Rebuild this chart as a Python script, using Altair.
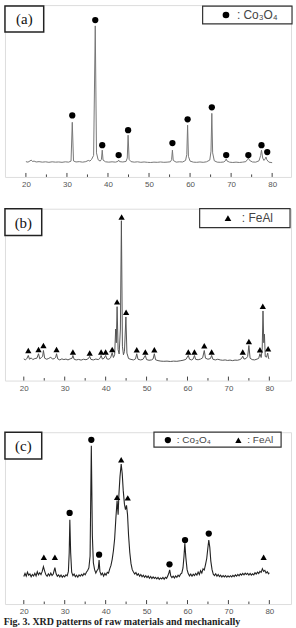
import altair as alt
import pandas as pd

# ---------------- data ----------------
TICKS_MAJOR = [20, 30, 40, 50, 60, 70, 80]
TICKS_MINOR = [25, 35, 45, 55, 65, 75]

# (a) raw Co3O4 : (2theta, intensity)
A_TRACE = [
    (20.0, 8.9), (20.5, 8.6), (21.0, 9.3), (21.3, 9.8), (21.6, 9.0), (22.0, 9.2), (22.5, 8.7),
    (23.2, 8.9), (24.0, 8.6), (24.8, 8.8), (25.6, 8.5), (26.4, 8.8), (27.2, 8.6), (28.0, 8.7),
    (28.8, 8.5), (29.6, 8.8), (30.4, 8.6), (31.0, 9.2), (31.3, 31.8), (31.6, 9.3), (32.2, 8.7),
    (33.0, 8.9), (33.8, 8.6), (34.6, 8.9), (35.2, 9.6), (35.6, 9.2), (36.0, 10.2), (36.5, 12.5),
    (36.9, 87.9), (37.2, 14.0), (37.6, 10.0), (38.1, 9.2), (38.4, 10.2), (38.6, 15.6), (38.8, 9.8),
    (39.4, 8.8), (40.2, 8.6), (41.0, 8.8), (41.8, 8.6), (42.4, 9.0), (42.6, 9.8), (42.8, 8.9),
    (43.6, 8.7), (44.4, 9.0), (44.7, 11.0), (44.9, 24.3), (45.15, 10.2), (45.6, 8.9), (46.4, 8.6),
    (47.2, 8.8), (48.0, 8.5), (48.8, 8.7), (49.6, 8.5), (50.4, 8.4), (51.2, 8.6), (52.0, 8.5),
    (52.8, 8.7), (53.6, 8.5), (54.4, 8.6), (55.2, 8.8), (55.5, 10.0), (55.7, 15.6), (55.9, 9.6),
    (56.6, 8.6), (57.4, 8.8), (58.2, 8.7), (58.9, 9.6), (59.2, 13.0), (59.4, 30.1), (59.6, 12.0),
    (60.0, 9.2), (60.8, 8.6), (61.6, 8.5), (62.4, 8.7), (63.2, 8.5), (64.0, 8.8), (64.8, 9.8),
    (65.1, 15.0), (65.3, 37.0), (65.5, 14.0), (65.9, 9.4), (66.6, 8.6), (67.4, 8.5), (68.2, 8.7),
    (68.6, 9.4), (68.8, 10.4), (69.0, 9.3), (69.6, 8.6), (70.4, 8.4), (71.2, 8.6), (72.0, 8.4),
    (72.8, 8.6), (73.6, 8.9), (74.0, 10.2), (74.2, 11.0), (74.5, 9.6), (75.2, 8.7), (76.0, 8.6),
    (76.8, 9.4), (77.2, 12.5), (77.4, 15.6), (77.7, 11.0), (78.0, 9.6), (78.3, 10.5), (78.5, 11.6),
    (78.7, 10.0), (79.2, 8.6), (80.0, 8.3),
]
A_MARK_TT = [31.3, 36.9, 38.6, 42.6, 44.9, 55.7, 59.4, 65.3, 68.8, 74.2, 77.4, 78.8]
A_MARK_I = [35.8, 91.3, 18.5, 12.7, 27.2, 19.7, 33.5, 40.5, 12.7, 12.7, 18.5, 14.5]

# (b) raw FeAl
B_TRACE = [
    (20.0, 12.6), (20.4, 12.0), (20.8, 13.0), (21.1, 14.6), (21.4, 12.4), (21.8, 13.2), (22.2, 12.2),
    (22.7, 12.8), (23.2, 13.0), (23.6, 15.6), (23.9, 12.6), (24.3, 13.4), (24.6, 14.0), (24.8, 17.5),
    (25.1, 13.0), (25.6, 12.4), (26.1, 12.9), (26.6, 13.6), (27.0, 12.5), (27.5, 12.8), (27.8, 13.6),
    (28.0, 15.6), (28.3, 12.6), (28.8, 12.0), (29.3, 12.6), (29.8, 12.2), (30.3, 12.5), (30.8, 12.0),
    (31.3, 12.6), (31.8, 13.0), (32.0, 14.6), (32.3, 12.4), (32.8, 12.0), (33.4, 12.3), (34.0, 11.9),
    (34.6, 12.4), (35.2, 12.1), (35.8, 12.8), (36.1, 14.1), (36.4, 12.3), (37.0, 12.0), (37.6, 12.5),
    (38.2, 12.2), (38.6, 12.9), (38.9, 14.6), (39.2, 12.5), (39.6, 12.9), (40.0, 14.6), (40.3, 12.6),
    (40.8, 12.4), (41.2, 13.2), (41.6, 16.2), (41.9, 13.4), (42.2, 15.0), (42.45, 30.0), (42.6, 22.0),
    (42.8, 43.0), (43.05, 18.0), (43.3, 15.5), (43.6, 30.0), (43.85, 93.0), (44.1, 20.0), (44.35, 15.0),
    (44.6, 17.0), (44.95, 37.0), (45.2, 16.0), (45.6, 12.8), (46.2, 12.3), (46.8, 12.0), (47.3, 12.6),
    (47.6, 15.6), (47.9, 12.4), (48.5, 12.0), (49.1, 12.3), (49.7, 14.6), (50.0, 12.2), (50.6, 11.8),
    (51.2, 12.0), (51.6, 12.6), (51.9, 15.6), (52.2, 12.1), (52.8, 11.6), (53.5, 11.3), (54.2, 11.2),
    (55.0, 11.3), (55.8, 11.1), (56.6, 11.3), (57.4, 11.2), (58.2, 11.5), (58.9, 11.8), (59.6, 12.3),
    (60.2, 14.6), (60.5, 12.4), (61.0, 12.0), (61.4, 12.6), (61.7, 14.6), (62.0, 12.3), (62.6, 12.1),
    (63.2, 12.5), (63.7, 13.2), (64.1, 17.5), (64.4, 13.0), (65.0, 12.4), (65.6, 12.8), (65.9, 14.6),
    (66.2, 12.4), (66.8, 12.0), (67.4, 12.4), (68.0, 12.0), (68.6, 11.8), (69.2, 12.0), (69.8, 11.7),
    (70.4, 11.9), (71.0, 11.6), (71.6, 11.9), (72.2, 11.8), (72.8, 12.2), (73.2, 12.8), (73.5, 14.2),
    (73.8, 12.5), (74.3, 12.8), (74.7, 14.0), (75.0, 20.4), (75.3, 13.0), (75.8, 12.2), (76.4, 12.0),
    (77.0, 12.5), (77.4, 12.9), (77.7, 15.6), (78.0, 13.4), (78.25, 18.0), (78.45, 40.5), (78.65, 22.0),
    (78.8, 27.0), (79.0, 14.0), (79.3, 13.6), (79.6, 16.0), (79.8, 13.0), (80.0, 12.5),
]
B_MARK_TT = [21.1, 23.6, 24.8, 28.0, 32.0, 36.1, 38.9, 40.0, 41.6, 42.8, 43.9, 45.0,
             47.6, 49.7, 51.9, 60.2, 61.7, 64.1, 65.9, 73.5, 75.0, 77.7, 78.4, 79.7]
B_MARK_I = [17.5, 18.1, 20.4, 18.1, 16.6, 16.0, 16.6, 16.6, 18.1, 45.8, 95.2, 39.7,
            17.9, 16.6, 17.9, 16.6, 16.6, 20.2, 16.6, 16.6, 22.7, 17.9, 43.2, 18.5]

# (c) mechanically alloyed Co3O4 + FeAl
C_TRACE = [
    (20.0, 16.0), (20.3, 17.8), (20.6, 16.2), (20.9, 18.6), (21.2, 16.8), (21.5, 17.5), (21.8, 15.9),
    (22.1, 17.2), (22.4, 16.3), (22.7, 17.9), (23.0, 16.4), (23.3, 18.8), (23.6, 17.0), (23.9, 18.2),
    (24.2, 17.1), (24.5, 19.0), (24.8, 21.8), (25.1, 19.2), (25.4, 17.0), (25.7, 16.2), (26.0, 17.6),
    (26.3, 16.4), (26.6, 18.0), (26.9, 16.6), (27.2, 17.5), (27.6, 21.2), (27.9, 17.6), (28.2, 16.2),
    (28.5, 17.0), (28.8, 15.8), (29.1, 16.9), (29.4, 15.6), (29.7, 16.6), (30.0, 15.8), (30.3, 17.0),
    (30.6, 16.4), (30.9, 19.0), (31.1, 30.0), (31.25, 49.1), (31.45, 30.0), (31.7, 18.5), (32.0, 16.5),
    (32.3, 17.4), (32.6, 15.9), (32.9, 16.8), (33.2, 15.6), (33.5, 17.0), (33.8, 16.2), (34.1, 17.3),
    (34.4, 16.5), (34.7, 17.8), (35.0, 17.0), (35.3, 18.5), (35.6, 19.5), (35.9, 21.0), (36.2, 28.0),
    (36.5, 92.1), (36.75, 40.0), (37.0, 24.0), (37.3, 20.0), (37.6, 18.0), (37.9, 19.5), (38.2, 20.5),
    (38.4, 25.6), (38.6, 19.0), (38.9, 17.0), (39.2, 18.0), (39.5, 16.2), (39.8, 17.8), (40.1, 16.8),
    (40.4, 18.5), (40.7, 18.0), (41.0, 20.5), (41.3, 22.5), (41.6, 26.0), (41.9, 31.0), (42.2, 38.0),
    (42.5, 50.0), (42.8, 60.3), (43.05, 52.0), (43.25, 64.0), (43.5, 74.0), (43.8, 81.5), (44.05, 76.0),
    (44.3, 66.0), (44.6, 58.0), (44.85, 55.0), (45.1, 57.4), (45.35, 52.0), (45.6, 40.0), (45.9, 30.0),
    (46.2, 23.5), (46.5, 20.0), (46.8, 18.6), (47.1, 17.5), (47.4, 18.4), (47.7, 16.8), (48.0, 17.6),
    (48.3, 16.2), (48.6, 17.2), (48.9, 15.9), (49.2, 16.8), (49.5, 15.6), (49.8, 16.5), (50.1, 15.4),
    (50.4, 16.3), (50.7, 15.0), (51.0, 16.0), (51.3, 14.8), (51.6, 15.8), (51.9, 14.9), (52.2, 15.6),
    (52.5, 14.6), (52.8, 15.5), (53.1, 14.4), (53.4, 15.2), (53.7, 14.6), (54.0, 15.5), (54.3, 14.4),
    (54.6, 15.6), (54.9, 15.0), (55.2, 16.4), (55.5, 18.5), (55.65, 19.9), (55.9, 16.5), (56.2, 15.4),
    (56.5, 16.2), (56.8, 15.2), (57.1, 16.4), (57.4, 15.6), (57.7, 16.8), (58.0, 16.0), (58.3, 17.4),
    (58.6, 18.0), (58.9, 21.0), (59.15, 28.0), (59.35, 35.3), (59.6, 27.0), (59.9, 20.0), (60.2, 17.6),
    (60.5, 16.4), (60.8, 17.5), (61.1, 16.2), (61.4, 17.4), (61.7, 16.6), (62.0, 17.8), (62.3, 16.8),
    (62.6, 18.6), (62.9, 17.2), (63.2, 19.4), (63.5, 18.0), (63.8, 20.5), (64.1, 19.8), (64.4, 23.0),
    (64.7, 26.5), (64.95, 32.0), (65.2, 37.2), (65.45, 33.0), (65.7, 25.0), (66.0, 20.0), (66.3, 17.4),
    (66.6, 16.6), (66.9, 17.6), (67.2, 16.2), (67.5, 17.2), (67.8, 16.0), (68.1, 16.8), (68.4, 15.7),
    (68.7, 16.6), (69.0, 15.8), (69.3, 16.6), (69.6, 15.6), (69.9, 16.4), (70.2, 15.7), (70.5, 16.5),
    (70.8, 15.8), (71.1, 16.7), (71.4, 16.0), (71.7, 17.0), (72.0, 16.2), (72.3, 17.2), (72.6, 16.4),
    (72.9, 17.5), (73.2, 16.8), (73.5, 17.8), (73.8, 17.0), (74.1, 18.0), (74.4, 17.2), (74.7, 17.9),
    (75.0, 16.9), (75.3, 17.8), (75.6, 16.8), (75.9, 17.6), (76.2, 17.0), (76.5, 18.2), (76.8, 17.4),
    (77.1, 18.6), (77.4, 17.8), (77.7, 19.0), (78.0, 18.4), (78.3, 20.6), (78.6, 19.0), (78.9, 19.6),
    (79.2, 18.0), (79.5, 18.8), (79.8, 17.6), (80.0, 18.2),
]
C_CO_TT = [31.2, 36.5, 38.4, 55.6, 59.4, 65.2]
C_CO_I = [53.0, 95.6, 28.7, 23.1, 37.2, 41.0]
C_FE_TT = [24.9, 27.6, 42.8, 43.8, 45.4, 78.6]
C_FE_I = [27.2, 27.2, 62.2, 84.0, 61.8, 27.2]

CO = ": Co\u2083O\u2084"
FE = ": FeAl"
CAPTION = "Fig. 3. XRD patterns of raw materials and mechanically"

W, H = 288, 173


def panel(trace, mk_tt, mk_i, mk_phase, phases, shapes, tag, xdom, lcolor, lwidth,
          lbox, leg, tagbox):
    xenc = alt.X("tt:Q", scale=alt.Scale(domain=xdom, nice=False, zero=False),
                 axis=alt.Axis(values=TICKS_MAJOR, title=None, ticks=False, domain=False,
                               grid=False, labelFontSize=8, labelColor="#555",
                               labelPadding=4, labelFont="Liberation Sans",
                               labelFlush=False))
    yenc = alt.Y("I:Q", scale=alt.Scale(domain=[0, 100]), axis=None)
    df = pd.DataFrame(trace, columns=["tt", "I"])
    line = alt.Chart(df).mark_line(color=lcolor, strokeWidth=lwidth).encode(x=xenc, y=yenc)
    mdf = pd.DataFrame({"tt": mk_tt, "I": mk_i, "phase": mk_phase})
    pts = alt.Chart(mdf).mark_point(filled=True, color="black", opacity=1, size=40).encode(
        x=xenc, y=yenc,
        shape=alt.Shape("phase:N", scale=alt.Scale(domain=phases, range=shapes),
                        legend=alt.Legend(**leg)))
    tmaj = alt.Chart(pd.DataFrame({"tt": TICKS_MAJOR})).mark_rule(
        color="#444", strokeWidth=1).encode(x=xenc, y=alt.value(H), y2=alt.value(H - 4))
    tmin = alt.Chart(pd.DataFrame({"tt": TICKS_MINOR})).mark_rule(
        color="#444", strokeWidth=1).encode(x=xenc, y=alt.value(H), y2=alt.value(H - 2.5))
    one = pd.DataFrame({"k": [0]})
    bx0, bx1, by0, by1 = lbox
    legbox = alt.Chart(one).mark_rect(fill="white", stroke="#333", strokeWidth=1.2).encode(
        x=alt.value(bx0), x2=alt.value(bx1), y=alt.value(by0), y2=alt.value(by1))
    tx0, tx1, ty0, ty1 = tagbox
    tagrect = alt.Chart(one).mark_rect(fill="white", stroke="#222", strokeWidth=1.5).encode(
        x=alt.value(tx0), x2=alt.value(tx1), y=alt.value(ty0), y2=alt.value(ty1))
    tagtext = alt.Chart(one).mark_text(font="Liberation Serif", fontSize=15, color="#111",
                                       align="center", baseline="middle", text=tag).encode(
        x=alt.value((tx0 + tx1) / 2), y=alt.value((ty0 + ty1) / 2 + 0.5))
    return alt.layer(line, tmaj, tmin, legbox, tagrect, tagtext, pts).properties(
        width=W, height=H)


pa = panel(A_TRACE, A_MARK_TT, A_MARK_I, [CO] * len(A_MARK_TT), [CO], ["circle"], "(a)",
           [14.9, 84.6], "#777", 1.0, (199, 289, 1, 19),
           dict(orient="none", legendX=216.5, legendY=4, title=None, labelFont="Liberation Sans",
                labelFontSize=12, labelColor="#444", labelOffset=5, symbolSize=45,
                symbolFillColor="black", symbolStrokeColor="black", padding=0),
           (0, 39, 1, 27))
pb = panel(B_TRACE, B_MARK_TT, B_MARK_I, [FE] * len(B_MARK_TT), [FE], ["triangle-up"], "(b)",
           [15.4, 85.3], "#555", 1.0, (196, 287, 0, 19),
           dict(orient="none", legendX=218.5, legendY=3.5, title=None, labelFont="Liberation Sans",
                labelFontSize=12, labelColor="#444", labelOffset=8, symbolSize=45,
                symbolFillColor="black", symbolStrokeColor="black", padding=0),
           (0, 37, 0, 27))
pc = panel(C_TRACE, C_CO_TT + C_FE_TT, C_CO_I + C_FE_I, [CO] * len(C_CO_TT) + [FE] * len(C_FE_TT),
           [CO, FE], ["circle", "triangle-up"], "(c)",
           [15.4, 85.3], "#222", 1.1, (150, 278, 0, 15),
           dict(orient="none", legendX=159, legendY=2.5, title=None, labelFont="Liberation Sans",
                labelFontSize=10, labelColor="#444", labelOffset=4, symbolSize=40,
                direction="horizontal", columns=2, columnPadding=20,
                symbolFillColor="black", symbolStrokeColor="black", padding=0),
           (0, 37, 0, 27))

top = alt.vconcat(pa, pb, spacing=17).resolve_scale(
    x="independent", y="independent", shape="independent").resolve_legend(shape="independent")
chart = alt.vconcat(top, pc, spacing=37).resolve_scale(
    x="independent", y="independent", shape="independent").resolve_legend(
    shape="independent").properties(
    padding={"left": 3, "top": 2, "right": 2, "bottom": 0},
    title=alt.TitleParams(CAPTION, orient="bottom", anchor="start", font="Liberation Serif",
                          fontSize=10, fontWeight="bold", color="#222", offset=1, limit=292),
).configure_view(stroke="#3a3a3a", strokeWidth=1.5).configure(background="white")

chart.save("out.html", embed_options={"renderer": "svg", "actions": False})
